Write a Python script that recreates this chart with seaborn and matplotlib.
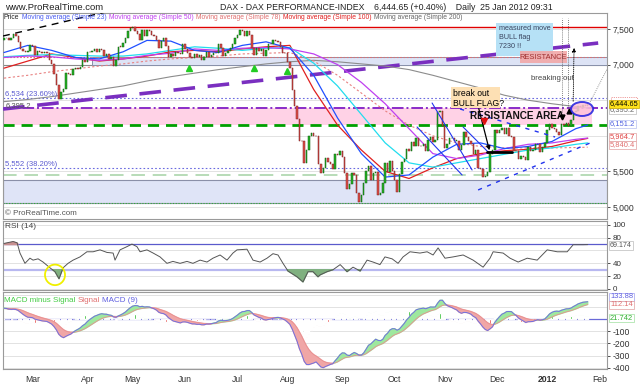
import numpy as np
import pandas as pd
import seaborn as sns
import matplotlib.pyplot as plt
from matplotlib.patches import Rectangle, Ellipse

sns.set_theme(style="white")
plt.rcParams['font.family'] = ['Liberation Sans', 'DejaVu Sans']
NARROW = ['Liberation Sans Narrow', 'Liberation Sans', 'DejaVu Sans']

# trading days shown (Xetra, Feb 11 2011 .. Jan 25 2012)
days = pd.bdate_range('2011-02-11', '2012-01-25')
days = days.drop(pd.to_datetime(['2011-04-22', '2011-04-25', '2011-12-26']))

closes = [
    # Feb
    7371, 7374, 7343, 7378, 7426, 7400, 7324, 7219, 7196, 7178, 7185, 7272,
    # Mar
    7255, 7130, 7190, 7178, 7160, 7180, 7165, 7063, 7011, 6866, 6715, 6513,
    6621, 6664, 6877, 6868, 6851, 6945, 6947, 6938, 6971, 7069, 7041,
    # Apr
    7176, 7175, 7187, 7215, 7179, 7217, 7202, 7120, 7148, 7085, 7110, 6986,
    7064, 7250, 7249, 7300, 7367, 7475, 7514,
    # May
    7527, 7473, 7433, 7343, 7492, 7402, 7491, 7469, 7413, 7398, 7350, 7236,
    7333, 7369, 7266, 7112, 7153, 7117, 7183, 7164, 7144, 7294,
    # Jun
    7217, 7163, 7109, 7098, 7147, 7100, 7136, 7069, 7105, 7175, 7110, 7134,
    7164, 7160, 7285, 7236, 7121, 7167, 7190, 7227, 7294, 7376,
    # Jul
    7420, 7489, 7472, 7402, 7477, 7419, 7230, 7140, 7227, 7195, 7220, 7123,
    7206, 7294, 7290, 7344, 7326, 7318, 7253, 7166, 7158,
    # Aug
    7030, 6955, 6640, 6414, 6236, 5924, 5923, 5614, 5798, 5998, 6034, 5995,
    5994, 5603, 5480, 5554, 5690, 5628, 5608, 5538, 5739, 5728, 5785,
    # Sep
    5697, 5475, 5246, 5320, 5481, 5450, 5190, 5072, 5165, 5337, 5508, 5574,
    5375, 5473, 5496, 5165, 5195, 5340, 5621, 5494, 5639, 5502,
    # Oct
    5377, 5216, 5457, 5629, 5675, 5812, 5781, 5910, 5860, 5967, 5858, 5856,
    5880, 5784, 5937, 5976, 5906, 5939, 6334, 6346, 6141,
    # Nov
    5834, 5883, 5962, 5966, 5928, 5929, 5797, 5867, 6057, 5985, 5933, 5885,
    5751, 5800, 5547, 5537, 5428, 5429, 5493, 5745, 5800, 6088,
    # Dec
    6034, 6080, 6107, 6029, 6106, 5995, 5986, 5785, 5785, 5675, 5714, 5702,
    5653, 5847, 5791, 5805, 5878, 5889, 5771, 5848, 5898,
    # Jan 2012
    6075, 6166, 6111, 6095, 6057, 6018, 6162, 6152, 6179, 6143, 6220, 6332,
    6354, 6416, 6404, 6436, 6419, 6444.65,
]
first_open = 7350

# moving averages every 10 sessions
ma_idx = list(range(0, 250, 10)) + [245]
ma_blue = [7170, 7270, 7200, 7100, 7080, 7180, 7340, 7330, 7200, 7170, 7270, 7320, 7230,
           6850, 6250, 5750, 5420, 5450, 5700, 5880, 5900, 5820, 5850, 5920, 6100, 6151]
ma_magenta = [7100, 7120, 7110, 7080, 7060, 7080, 7130, 7160, 7220, 7200, 7230, 7240, 7220,
              7150, 7000, 6750, 6450, 6100, 5750, 5680, 5730, 5820, 5880, 5900, 5950, 5968]
ma_cyan = [7110, 7130, 7140, 7130, 7120, 7120, 7150, 7200, 7250, 7230, 7200, 7230, 7240,
           7020, 6700, 6300, 5900, 5620, 5560, 5620, 5680, 5740, 5800, 5830, 5880, 5900]
ma_red = [6950, 7050, 7150, 7100, 7050, 7080, 7120, 7180, 7200, 7180, 7220, 7250, 7270,
          6650, 6150, 5800, 5500, 5400, 5550, 5680, 5750, 5790, 5810, 5850, 5930, 5964]
ma_salmon = [6810, 6850, 6900, 6940, 6980, 7010, 7050, 7080, 7100, 7120, 7150, 7160, 7170,
             7050, 6850, 6600, 6350, 6150, 6000, 5900, 5850, 5830, 5830, 5830, 5835, 5840]
ma_gray = [6480, 6510, 6550, 6600, 6650, 6700, 6770, 6830, 6880, 6930, 6970, 7010, 7040,
           7060, 7040, 7010, 6980, 6930, 6850, 6760, 6670, 6570, 6500, 6450, 6410, 6390]

# RSI(14)
rsi_idx = [0, 3.8, 5.5, 6.7, 8.8, 10.9, 12.2, 14.3, 16.4, 19.3, 21.4, 23.1, 24.8, 26.9, 29.0,
           31.9, 34.8, 37.4, 40.3, 43.2, 45.8, 46.6, 48.7, 51.6, 53.7, 55.8, 57.1, 60.0, 62.6,
           65.5, 68.4, 70.9, 73.9, 76.8, 79.3, 82.3, 85.2, 87.7, 90.7, 93.6, 96.1, 97.8, 102.0,
           104.5, 107.5, 110.4, 112.9, 115.0, 117.1, 119.2, 123.0, 125.5, 127.6, 129.7, 131.8,
           132.7, 135.6, 138.1, 141.1, 144.0, 146.5, 149.5, 152.4, 154.9, 157.8, 159.9, 162.9,
           165.4, 167.5, 170.4, 174.6, 177.6, 180.1, 182.2, 185.1, 188.5, 192.7, 196.9, 201.1,
           204.0, 205.3, 209.5, 212.4, 215.8, 219.6, 223.8, 228.0, 232.2, 236.4, 238.9, 243.1,
           245]
rsi_val = [71, 74, 72, 56, 40, 48, 45, 47, 42, 33, 27, 16, 33, 40, 45, 50, 58, 58, 61, 57, 56,
           45, 61, 66, 70, 66, 58, 61, 56, 50, 40, 43, 40, 43, 40, 45, 42, 48, 53, 45, 56, 61,
           62, 45, 42, 48, 55, 53, 40, 28, 19, 11, 27, 27, 19, 22, 27, 30, 38, 27, 34, 28, 45,
           42, 38, 50, 47, 40, 50, 58, 56, 58, 53, 64, 48, 50, 53, 45, 34, 48, 58, 56, 48, 42,
           48, 45, 61, 58, 58, 69, 69, 69.174]

# MACD start values read at the left edge
macd_start, signal_start = 90, 85

month_labels = ['Mar', 'Apr', 'May', 'Jun', 'Jul', 'Aug', 'Sep', 'Oct', 'Nov', 'Dec', '2012', 'Feb']
month_idx = [12, 35, 54, 76, 98, 119, 142, 164, 185, 207, 228, 250]

# ---------------------------------------------------------------
df = pd.DataFrame({'date': days, 'close': closes})
df['i'] = np.arange(len(df))
df['open'] = [first_open] + closes[:-1]
df['up'] = df['close'] >= df['open']

# MACD 12/26/9
e12 = df['close'].iloc[0] - 60.0
e26 = e12 - macd_start
sig = signal_start
macd, signal = [], []
for c in df['close']:
    e12 = e12 + (c - e12) * 2 / 13
    e26 = e26 + (c - e26) * 2 / 27
    m = e12 - e26
    sig = sig + (m - sig) * 2 / 10
    macd.append(m)
    signal.append(sig)
df['macd'] = macd
df['signal'] = signal
df['hist'] = df['macd'] - df['signal']

W, H = 640, 384
fig = plt.figure(figsize=(6.4, 3.84), dpi=100)


def box(x0, y0, x1, y1):
    return [x0 / W, 1 - y1 / H, (x1 - x0) / W, (y1 - y0) / H]


ax = fig.add_axes(box(3, 13, 607, 219))
ax_rsi = fig.add_axes(box(3, 221, 607, 290), sharex=ax)
ax_m = fig.add_axes(box(3, 292, 607, 369), sharex=ax)

XL = (-0.42, 253.1)
for a in (ax, ax_rsi, ax_m):
    a.set_facecolor('white')
    for s in a.spines.values():
        s.set_color('#9a9a9a')
        s.set_linewidth(0.8)
    a.yaxis.tick_right()
    a.tick_params(axis='y', labelsize=6.2, colors='#333333', length=2, pad=2, width=0.6)
    a.tick_params(axis='x', length=0, labelbottom=False)
    a.set_xlim(*XL)

pxx = lambda x: (x - 4) / 2.382
pyy = lambda y: 7500 - (y - 29) / 0.0712

# ---------------- price panel ----------------
ax.set_ylim(4831, 7725)
for lv in [5000, 5500, 6000, 6500, 7000, 7500]:
    ax.axhline(lv, color='#e2e2e2', lw=0.7, zorder=0)
ax.set_yticks([5000, 5500, 7000, 7500])
ax.set_yticklabels(['5,000', '5,500', '7,000', '7,500'])

# zones & levels
ax.add_patch(Rectangle((XL[0], 5056), 253.5, 323, fc='#dfe4f7', ec='#8a8fa8', lw=0.8, zorder=1))
ax.axhline(5056, color='#30b030', lw=0.8, ls=(0, (1, 1.5)), zorder=2)
ax.axhline(5450, color='#b8dcb8', lw=1.4, ls=(0, (7, 4)), zorder=1)
ax.axhline(5552, color='#6a6ae0', lw=0.8, ls=(0, (1.5, 2)), zorder=1)
ax.add_patch(Rectangle((XL[0], 6151.2), 247.2, 244, fc='#ffd2e6', ec='none', zorder=1))
ax.axhline(6151.2, color='#00a000', lw=2.0, ls=(0, (4, 2.5)), zorder=2)
ax.axhline(6395.2, color='#8a2cc8', lw=1.4, ls=(0, (6, 1.5, 1, 1.5)), zorder=2)
ax.axhline(6534, color='#6a6ae0', lw=0.8, ls=(0, (1.5, 2)), zorder=1)
ax.axhline(7000, color='#8a8a8a', lw=0.8, zorder=1)
ax.add_patch(Rectangle((37, 7000), 216, 100, fc='#dde3f5', ec='#8890aa', lw=0.7, zorder=1))
ax.axhline(7100, color='#e07070', lw=0.8, ls=(0, (1.5, 1.5)), zorder=2)
ax.plot([31, XL[1]], [7524, 7524], color='#e00000', lw=1.0, zorder=2)

# purple rising trend line and black dashed line at top
ax.plot([-0.4, 249.4], [6376, 7303], color='#7a2fc0', lw=2.6, ls=(0, (6, 3.5)), zorder=3)
ax.plot([pxx(3), pxx(110)], [pyy(36), pyy(11)], color='black', lw=1.0, ls=(0, (5, 4)), zorder=3)

# moving averages
ma = pd.DataFrame({'i': ma_idx, 'gray': ma_gray, 'salmon': ma_salmon, 'red': ma_red,
                   'cyan': ma_cyan, 'magenta': ma_magenta, 'blue': ma_blue})
sns.lineplot(data=ma, x='i', y='gray', ax=ax, color='#8c8c8c', lw=0.8, zorder=4)
sns.lineplot(data=ma, x='i', y='salmon', ax=ax, color='#e88080', lw=0.8, ls=(0, (2, 2)), zorder=4)
sns.lineplot(data=ma, x='i', y='red', ax=ax, color='#e02020', lw=0.9, zorder=4)
sns.lineplot(data=ma, x='i', y='cyan', ax=ax, color='#22ddee', lw=0.9, zorder=4)
sns.lineplot(data=ma, x='i', y='magenta', ax=ax, color='#c040f0', lw=0.9, zorder=4)
sns.lineplot(data=ma, x='i', y='blue', ax=ax, color='#2050ff', lw=0.9, zorder=4)

# candles
body = (df['close'] - df['open']).abs().clip(lower=6)
low = df[['open', 'close']].min(axis=1)
ax.bar(df['i'], body, bottom=low, width=0.62,
       color=np.where(df['up'], '#27b427', '#e0504a'),
       edgecolor=np.where(df['up'], '#0d5c0d', '#7a2020'), lw=0.35, zorder=5)

# channel / flag lines
for (x0, y0, x1, y1) in [(432, 103, 472, 170), (417, 127, 462, 175), (463, 127, 488, 152)]:
    ax.plot([pxx(x0), pxx(x1)], [pyy(y0), pyy(y1)], color='#2233ee', lw=0.8, zorder=6)
for (x0, y0, x1, y1) in [(460, 109, 555, 137), (478, 190, 590, 143)]:
    ax.plot([pxx(x0), pxx(x1)], [pyy(y0), pyy(y1)], color='#2233ee', lw=1.0,
            ls=(0, (3, 4)), zorder=6)
ax.plot([pxx(487), pxx(512)], [pyy(152)] * 2, color='black', lw=2, zorder=7)

# annotations
ax.add_patch(Rectangle((pxx(496), pyy(56)), pxx(553) - pxx(496), pyy(23) - pyy(56),
                       fc='#b6e1f6', ec='none', zorder=6))
ax.text(pxx(499), pyy(25), 'measured move\nBULL flag\n7230 !!', fontsize=5.2, color='#3a4560',
        va='top', ha='left', linespacing=1.35, zorder=7)
ax.add_patch(Rectangle((pxx(520), pyy(63)), pxx(567) - pxx(520), pyy(51) - pyy(63),
                       fc='#f2a8a8', ec='none', alpha=0.9, zorder=6))
ax.text(pxx(543.5), pyy(57.5), 'RESISTANCE', fontsize=5.4, color='#a03030',
        ha='center', va='center', zorder=7)
ax.add_patch(Rectangle((pxx(451), pyy(108)), pxx(500) - pxx(451), pyy(87) - pyy(108),
                       fc='#fde0b4', ec='none', zorder=6))
ax.text(pxx(453), pyy(89), 'break out\nBULL FLAG?', fontsize=6.2, color='black',
        va='top', ha='left', linespacing=1.15, zorder=7)
ax.text(pxx(517), pyy(116), 'RESISTANCE AREA', fontsize=7.2, fontweight='bold', color='#111111',
        ha='center', va='center', zorder=7)
ax.text(pxx(552), pyy(78), 'breaking out', fontsize=5.6, color='#444444', ha='center',
        va='center', zorder=7)
ax.annotate('', xy=(pxx(490), pyy(153)), xytext=(pxx(478), pyy(106)),
            arrowprops=dict(arrowstyle='-|>', color='black', lw=0.9, mutation_scale=6), zorder=8)
ax.plot([pxx(484)], [pyy(121)], marker='v', color='#e01010', ms=4, zorder=8)
for xx in (562, 568):
    ax.plot([pxx(xx), pxx(xx)], [pyy(112), pyy(18)], color='#555555', lw=0.6, ls=(0, (1, 1.5)), zorder=7)
ax.annotate('', xy=(pxx(574), pyy(45)), xytext=(pxx(573), pyy(104)),
            arrowprops=dict(arrowstyle='-|>', color='black', lw=0.6, ls=(0, (1, 1.5)),
                            mutation_scale=6), zorder=8)
ax.plot([pxx(590), pxx(607)], [pyy(102), pyy(69)], color='#777777', lw=0.6, ls=(0, (1, 1.5)), zorder=7)
ax.plot([pxx(562)], [pyy(117)], marker='v', color='black', ms=3.5, zorder=8)
ax.plot([pxx(569)], [pyy(111)], marker='^', color='black', ms=3.5, zorder=8)
ax.add_patch(Ellipse((pxx(582), pyy(109)), 22 / 2.382, 14 / 0.0712, fc='#ffc2da', ec='#1f1fe0',
                     lw=1.4, alpha=0.85, zorder=8))
for (xx, yy) in [(189, 68), (254, 68), (287, 71)]:
    ax.plot([pxx(xx)], [pyy(yy)], marker='^', color='#22cc22', ms=4.5, zorder=8)

ax.text(0.004, pyy(95), '6,534 (23.60%)', transform=ax.get_yaxis_transform(), fontsize=5.5,
        color='#5a5ad0', va='center', zorder=9)
ax.text(0.004, pyy(106), '6,395.2', transform=ax.get_yaxis_transform(), fontsize=5.5,
        color='#555555', va='center', zorder=9)
ax.text(0.004, pyy(165), '5,552 (38.20%)', transform=ax.get_yaxis_transform(), fontsize=5.5,
        color='#5a5ad0', va='center', zorder=9)
ax.text(0.004, pyy(214), '\u00a9 ProRealTime.com', transform=ax.get_yaxis_transform(),
        fontsize=5.8, color='#555555', va='center', zorder=9)

# ---------------- RSI ----------------
ax_rsi.set_ylim(-1.6, 106)
for lv in [0, 20, 40, 60, 80, 100]:
    ax_rsi.axhline(lv, color='#e2e2e2', lw=0.7, zorder=0)
ax_rsi.axhline(70, color='#5a5acc', lw=0.9, zorder=1)
ax_rsi.axhline(30, color='#b8b8f0', lw=1.6, zorder=1)
r = pd.DataFrame({'i': rsi_idx, 'rsi': rsi_val})
ax_rsi.fill_between(r['i'], r['rsi'], 70, where=r['rsi'] > 70, interpolate=True,
                    color='#c89090', zorder=2)
ax_rsi.fill_between(r['i'], r['rsi'], 30, where=r['rsi'] < 30, interpolate=True,
                    color='#7fb07f', zorder=2)
sns.lineplot(data=r, x='i', y='rsi', ax=ax_rsi, color='#555555', lw=0.7, zorder=3)
ax_rsi.set_yticks([0, 20, 40, 80, 100])
ax_rsi.tick_params(axis='y', labelsize=5.8)
ax_rsi.add_patch(Ellipse((pxx(55), 22), 20 / 2.382, 32, fc='none', ec='#f0f000', lw=1.3, zorder=4))
ax_rsi.text(0.004, 97, 'RSI (14)', transform=ax_rsi.get_yaxis_transform(), fontsize=6,
            color='#444444', va='center')

# ---------------- MACD ----------------
ax_m.set_ylim(-410, 221)
for lv in [-400, -300, -200, -100, 100, 200]:
    ax_m.axhline(lv, color='#e2e2e2', lw=0.7, zorder=0)
ax_m.axhline(0, color='#6a6ad8', lw=0.9, zorder=1)
ax_m.bar(df['i'], df['hist'], width=0.45,
         color=np.where(df['hist'] >= 0, '#00b000', '#e02020'), zorder=2)
ax_m.fill_between(df['i'], df['macd'], df['signal'], where=df['macd'] >= df['signal'],
                  interpolate=True, color='#9ee89e', zorder=3)
ax_m.fill_between(df['i'], df['macd'], df['signal'], where=df['macd'] < df['signal'],
                  interpolate=True, color='#f0a6a6', zorder=3)
sns.lineplot(data=df, x='i', y='signal', ax=ax_m, color='#e89090', lw=0.6, zorder=4)
sns.lineplot(data=df, x='i', y='macd', ax=ax_m, color='#7070e0', lw=0.7, zorder=4)
ax_m.set_yticks([-400, -300, -200, -100])
ax_m.set_yticklabels(['-400', '-300', '-200', '-100'])

for a in (ax, ax_rsi, ax_m):
    a.set_xlabel('')
    a.set_ylabel('')
    a.legend_ = None

# month axis
ax_m.set_xticks(month_idx)
ax_m.tick_params(axis='x', length=2.5, width=0.6, color='#777777', labelbottom=True,
                 labelsize=6.2, labelcolor='#333333', pad=1.5)
ax_m.set_xticklabels(month_labels)
for t in ax_m.get_xticklabels():
    if t.get_text() == '2012':
        t.set_fontweight('bold')
ax_m.set_xlim(*XL)

# ---------------- header & legends ----------------
fig.text(5 / W, 1 - 7 / H, 'www.ProRealTime.com', fontsize=6.8, color='#222222', va='center')
fig.text(220 / W, 1 - 7 / H, 'DAX - DAX PERFORMANCE-INDEX    6,444.65 (+0.40%)    Daily  25 Jan 2012 09:31',
         fontsize=6.3, color='#222222', va='center')

fig.canvas.draw()
rend = fig.canvas.get_renderer()


def chain(x, y, parts, size):
    for s, c in parts:
        t = fig.text(x / W, 1 - y / H, s, fontsize=size, color=c, va='center', family=NARROW)
        x = t.get_window_extent(renderer=rend).x1 + 2.5


chain(4, 17.5, [('Price', '#222222'), ('Moving average (Simple 23)', '#4a5cf0'),
                ('Moving average (Simple 50)', '#c040f0'), ('Moving average (Simple 78)', '#e07070'),
                ('Moving average (Simple 100)', '#e02020'), ('Moving average (Simple 200)', '#666666')], 4.9)
chain(4, 300, [('MACD minus Signal', '#44cc44'), ('Signal', '#e07070'), ('MACD (9)', '#6060e0')], 5.8)


# right-hand value boxes
def tag(y, s, c, fc='white', ec='#bbbbbb', size=5.4):
    fig.text(610 / W, 1 - y / H, s, fontsize=size, color=c, va='center', ha='left',
             bbox=dict(boxstyle='square,pad=0.12', fc=fc, ec=ec, lw=0.5))


fig.add_artist(Rectangle((611 / W, 1 - 100 / H), 26 / W, 3 / H, fc='white', ec='#e04040', lw=0.5,
                         ls=':', transform=fig.transFigure))
tag(110, '6,395.2', '#666666')
tag(104, '6,444.65', 'black', fc='#ffe21a', ec='#c8a800', size=5.2)
tag(124, '6,151.2', '#5060e0', ec='#b8c0f0')
tag(137, '5,964.7', '#e04040', ec='#e0a0a0')
tag(145, '5,840.4', '#e07070', ec='#e0a0a0')
tag(245.5, '69.174', '#555555', size=5.1)
tag(297, '133.88', '#6060e0', ec='#a0a0f0')
tag(305, '112.14', '#e07070', ec='#e0a0a0')
tag(318, '21.742', '#30b030', ec='#a0e0a0')

fig.savefig('out.png', dpi=100)
